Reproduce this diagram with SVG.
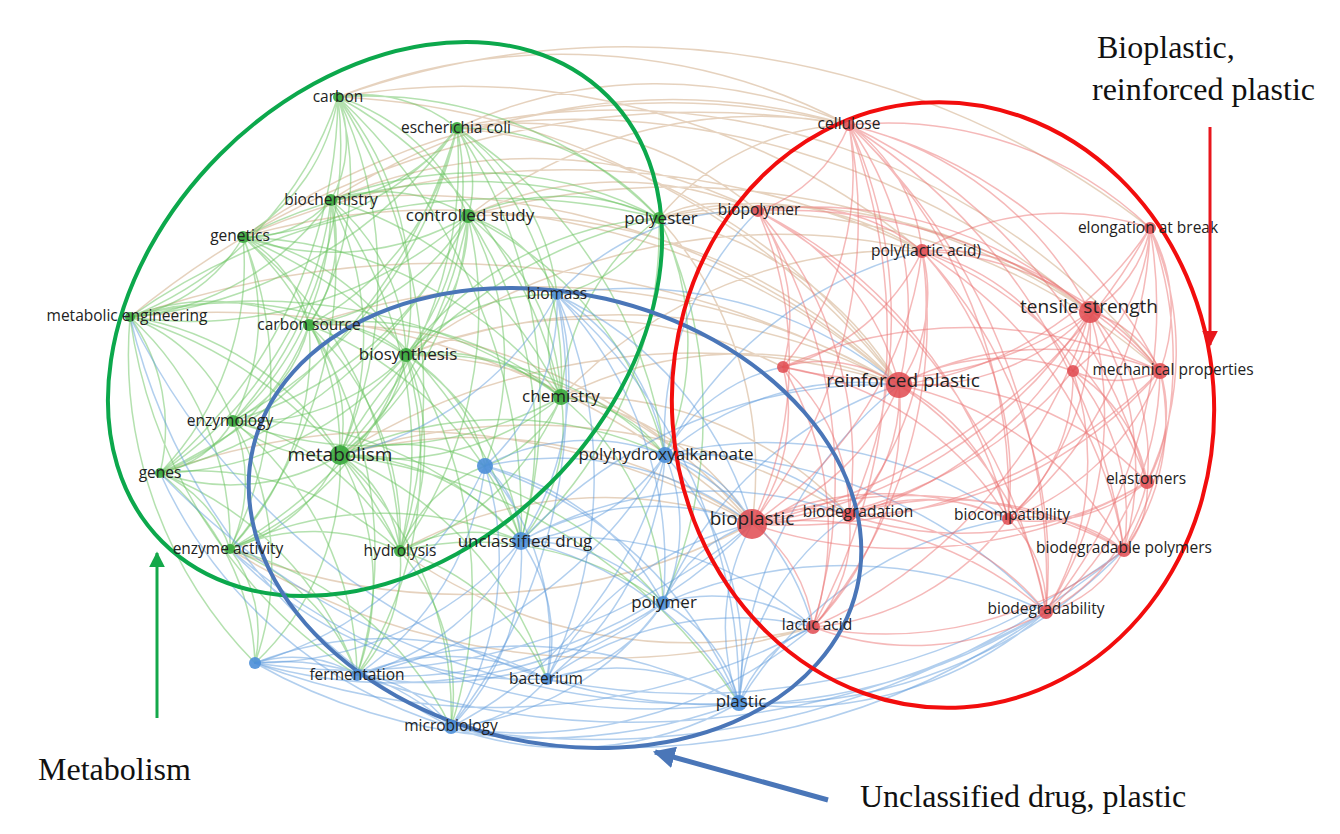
<svg xmlns="http://www.w3.org/2000/svg" width="1340" height="834" viewBox="0 0 1340 834">
<style>
.e path{fill:none;stroke-width:1.5;stroke-linecap:round}
.g{stroke:rgb(105,195,95);stroke-opacity:.5}
.b{stroke:rgb(95,155,220);stroke-opacity:.48}
.r{stroke:rgb(236,115,115);stroke-opacity:.5}
.x{stroke:rgb(205,165,125);stroke-opacity:.5}
.ng circle{fill:#38a83c;fill-opacity:.9}
.nb circle{fill:#4d8fd8;fill-opacity:.9}
.nr circle{fill:#e04a50;fill-opacity:.85}
text.l{font-family:"Open Sans","Noto Sans",sans-serif;font-size:15.5px;fill:#222;text-anchor:middle}
.m{font-size:17px!important}
.big{font-size:19px!important}
.ann{font-family:"Liberation Serif","Times New Roman",serif;font-size:32px;fill:#111}
.cl{fill:none;stroke-width:4}
</style>
<defs>
<marker id="ag" viewBox="0 0 10 10" refX="9" refY="5" markerWidth="16" markerHeight="16" markerUnits="userSpaceOnUse" orient="auto"><path d="M0,0L10,5L0,10z" fill="#14a84a"/></marker>
<marker id="ar" viewBox="0 0 10 10" refX="9" refY="5" markerWidth="16" markerHeight="16" markerUnits="userSpaceOnUse" orient="auto"><path d="M0,0L10,5L0,10z" fill="#e8161c"/></marker>
<marker id="ab" viewBox="0 0 10 10" refX="9" refY="5" markerWidth="22" markerHeight="22" markerUnits="userSpaceOnUse" orient="auto"><path d="M0,0L10,5L0,10z" fill="#4a76b8"/></marker>
</defs>
<rect width="1340" height="834" fill="#fff"/>
<g id="connectors" class="e">
<path class="x" d="M338 97A615 615 0 0 1 849 125M338 97A725 725 0 0 1 922 251M338 97A755 755 0 0 1 899 385M457 128A470 470 0 0 1 849 125M457 128A610 610 0 0 1 899 385M457 128A790 790 0 0 1 1090 312M457 128A375 375 0 0 1 758 211M331 200A630 630 0 0 1 849 125M331 200A510 510 0 0 1 758 211M331 200A720 720 0 0 1 899 385M243 237A745 745 0 0 1 849 125M243 237A815 815 0 0 1 922 251M468 216A475 475 0 0 1 849 125M468 216A560 560 0 0 1 899 385M468 216A350 350 0 0 1 758 211M468 216A755 755 0 0 1 1090 312M130 317A895 895 0 0 1 849 125M130 317A925 925 0 0 1 899 385M130 317A785 785 0 0 1 752 524M309 325A710 710 0 0 1 899 385M309 325A560 560 0 0 1 752 524M406 355A590 590 0 0 1 899 385M406 355A460 460 0 0 1 752 524M406 355A450 450 0 0 1 783 367M406 355A635 635 0 0 1 922 251M340 455A670 670 0 0 1 899 385M340 455A615 615 0 0 1 849 515M160 473A710 710 0 0 1 752 524M230 549A625 625 0 0 0 752 524M230 549A705 705 0 0 0 813 627M400 551A420 420 0 0 1 752 524M400 551A500 500 0 0 0 813 627M561 397A470 470 0 0 1 922 251M561 397A370 370 0 0 1 849 515M659 218A530 530 0 0 1 1090 312M659 218A630 630 0 0 1 1160 371M561 397A275 275 0 0 1 752 524M561 397A405 405 0 0 1 899 385M340 455A500 500 0 0 1 752 524M659 218A255 255 0 0 1 849 125M659 218A350 350 0 0 1 899 385M659 218A380 380 0 0 1 752 524M659 218A320 320 0 0 1 922 251M659 218A120 120 0 0 1 758 211M457 128A700 700 0 0 1 1160 371M338 97A850 850 0 0 1 1150 228M243 237A700 700 0 0 1 899 385"/>
<path class="g" d="M338 97A150 150 0 0 1 457 128M338 97A120 120 0 0 1 331 200M338 97A200 200 0 0 1 243 237M338 97A360 360 0 0 1 130 317M338 97A210 210 0 0 1 468 216M338 97A320 320 0 0 1 406 355M338 97A430 430 0 0 1 340 455M338 97A450 450 0 0 1 561 397M338 97A275 275 0 0 1 309 325M338 97A500 500 0 0 1 160 473M338 97A410 410 0 0 1 659 218M338 97A410 410 0 0 1 233 421M338 97A550 550 0 0 1 400 551M338 97A580 580 0 0 1 521 541"/>
<path class="g" d="M457 128A110 110 0 0 1 468 216M457 128A175 175 0 0 1 331 200M457 128A290 290 0 0 1 243 237M457 128A450 450 0 0 1 130 317M457 128A280 280 0 0 1 406 355M457 128A420 420 0 0 1 340 455M457 128A350 350 0 0 1 561 397M457 128A265 265 0 0 1 659 218M457 128A295 295 0 0 1 309 325M457 128A550 550 0 0 1 160 473M457 128A440 440 0 0 1 233 421M457 128A500 500 0 0 1 521 541M457 128A465 465 0 0 1 665 455M457 128A235 235 0 0 1 557 295"/>
<path class="g" d="M331 200A110 110 0 0 1 243 237M331 200A165 165 0 0 1 468 216M331 200A280 280 0 0 1 130 317M331 200A150 150 0 0 1 309 325M331 200A205 205 0 0 1 406 355M331 200A305 305 0 0 1 340 455M331 200A365 365 0 0 1 561 397M331 200A385 385 0 0 1 160 473M331 200A290 290 0 0 1 233 421M331 200A435 435 0 0 1 230 549M331 200A430 430 0 0 1 400 551M331 200A395 395 0 0 1 659 218"/>
<path class="g" d="M468 216A270 270 0 0 1 243 237M468 216A180 180 0 0 1 406 355M468 216A325 325 0 0 1 340 455M468 216A245 245 0 0 1 561 397M468 216A230 230 0 0 1 659 218M468 216A230 230 0 0 1 309 325M468 216A420 420 0 0 1 130 317M468 216A375 375 0 0 1 233 421M468 216A480 480 0 0 1 160 473M468 216A410 410 0 0 1 400 551M468 216A490 490 0 0 1 230 549M468 216A395 395 0 0 1 521 541M468 216A300 300 0 0 1 485 466M468 216A145 145 0 0 1 557 295M468 216A370 370 0 0 1 665 455"/>
<path class="g" d="M243 237A165 165 0 0 1 130 317M243 237A130 130 0 0 1 309 325M243 237A240 240 0 0 1 406 355M243 237A285 285 0 0 1 340 455M243 237A220 220 0 0 1 233 421M243 237A300 300 0 0 1 160 473M243 237A375 375 0 0 1 230 549M243 237A425 425 0 0 1 561 397M243 237A420 420 0 0 1 400 551M243 237A495 495 0 0 1 521 541M243 237A500 500 0 0 1 659 218"/>
<path class="g" d="M130 317A215 215 0 0 1 309 325M130 317A335 335 0 0 1 406 355M130 317A300 300 0 0 1 340 455M130 317A175 175 0 0 1 233 421M130 317A190 190 0 0 1 160 473M130 317A305 305 0 0 1 230 549M130 317A525 525 0 0 1 561 397M130 317A430 430 0 0 1 400 551M130 317A645 645 0 0 1 659 218M130 317A440 440 0 0 0 255 663M130 317A510 510 0 0 0 357 675"/>
<path class="g" d="M309 325A120 120 0 0 1 406 355M309 325A160 160 0 0 1 340 455M309 325A145 145 0 0 1 233 421M309 325A315 315 0 0 1 561 397M309 325A290 290 0 0 1 400 551M309 325A250 250 0 0 1 160 473M309 325A290 290 0 0 1 230 549M309 325A425 425 0 0 1 357 675M309 325A365 365 0 0 1 521 541"/>
<path class="g" d="M406 355A145 145 0 0 1 340 455M406 355A195 195 0 0 1 561 397M406 355A220 220 0 0 1 233 421M406 355A330 330 0 0 1 160 473M406 355A315 315 0 0 1 230 549M406 355A235 235 0 0 1 400 551M406 355A345 345 0 0 1 659 218M406 355A165 165 0 0 1 485 466M406 355A260 260 0 0 1 521 541M406 355A335 335 0 0 1 665 455M406 355A195 195 0 0 1 557 295M406 355A450 450 0 0 1 451 727M406 355A390 390 0 0 1 357 675"/>
<path class="g" d="M561 397A275 275 0 0 1 340 455M561 397A245 245 0 0 1 659 218M561 397A270 270 0 0 1 400 551M561 397A395 395 0 0 1 233 421M561 397A145 145 0 0 1 665 455M561 397A180 180 0 0 1 521 541M561 397A125 125 0 0 1 485 466M561 397A125 125 0 0 1 557 295M561 397A275 275 0 0 1 663 603"/>
<path class="g" d="M340 455A135 135 0 0 1 233 421M340 455A215 215 0 0 1 160 473M340 455A175 175 0 0 1 230 549M340 455A135 135 0 0 1 400 551M340 455A175 175 0 0 1 485 466M340 455A240 240 0 0 1 521 541M340 455A270 270 0 0 1 255 663M340 455A265 265 0 0 1 357 675M340 455A355 355 0 0 1 451 727M340 455A365 365 0 0 1 547 679M340 455A390 390 0 0 1 665 455M340 455A425 425 0 0 1 663 603M340 455A475 475 0 0 1 659 218M340 455A565 565 0 0 1 739 703"/>
<path class="g" d="M233 421A110 110 0 0 1 160 473M233 421A155 155 0 0 1 230 549M233 421A255 255 0 0 1 400 551M233 421A375 375 0 0 1 521 541M233 421A290 290 0 0 1 255 663M233 421A330 330 0 0 1 357 675M160 473A125 125 0 0 1 230 549M160 473A300 300 0 0 1 400 551M160 473A255 255 0 0 1 255 663M160 473A340 340 0 0 1 357 675M230 549A205 205 0 0 1 400 551M230 549A140 140 0 0 1 255 663M230 549A215 215 0 0 1 357 675M230 549A340 340 0 0 1 451 727M230 549A350 350 0 0 1 521 541M400 551A145 145 0 0 1 521 541M400 551A160 160 0 0 1 357 675M400 551A220 220 0 0 1 451 727M400 551A235 235 0 0 1 547 679M400 551A320 320 0 0 1 663 603M400 551A145 145 0 0 1 485 466M659 218A155 155 0 0 1 557 295M659 218A285 285 0 0 1 665 455M659 218A420 420 0 0 1 521 541M659 218A460 460 0 0 1 663 603"/>
<path class="b" d="M130 317A625 625 0 0 0 451 727M160 473A750 750 0 0 0 739 703M160 473A465 465 0 0 0 451 727M230 549A640 640 0 0 0 739 703M230 549A410 410 0 0 0 547 679M130 317A700 700 0 0 0 547 679"/>
<path class="b" d="M557 295A220 220 0 0 1 485 466M557 295A230 230 0 0 1 665 455M557 295A300 300 0 0 1 521 541M557 295A390 390 0 0 1 663 603M557 295A460 460 0 0 1 547 679M557 295A535 535 0 0 1 451 727M557 295A535 535 0 0 1 739 703M557 295A325 325 0 0 1 340 455M557 295A360 360 0 0 1 752 524M557 295A420 420 0 0 1 899 385M557 295A260 260 0 0 1 758 211"/>
<path class="b" d="M485 466A215 215 0 0 1 665 455M485 466A100 100 0 0 1 521 541M485 466A270 270 0 0 1 663 603M485 466A295 295 0 0 1 357 675M485 466A265 265 0 0 1 547 679M485 466A315 315 0 0 1 451 727M485 466A365 365 0 0 1 255 663M485 466A415 415 0 0 1 739 703M485 466A325 325 0 0 1 752 524"/>
<path class="b" d="M665 455A200 200 0 0 1 521 541M665 455A180 180 0 0 1 663 603M665 455A310 310 0 0 1 739 703M665 455A305 305 0 0 1 547 679M665 455A415 415 0 0 1 451 727M665 455A455 455 0 0 1 357 675M665 455A130 130 0 0 1 752 524M665 455A295 295 0 0 1 899 385M665 455A235 235 0 0 1 849 515M665 455A270 270 0 0 1 813 627M665 455A315 315 0 0 1 758 211M665 455A175 175 0 0 1 783 367M665 455A395 395 0 0 1 922 251M665 455A495 495 0 0 1 1046 612M665 455A420 420 0 0 1 1008 519"/>
<path class="b" d="M521 541A185 185 0 0 1 663 603M521 541A350 350 0 0 1 255 663M521 541A255 255 0 0 1 357 675M521 541A170 170 0 0 1 547 679M521 541A240 240 0 0 1 451 727M521 541A325 325 0 0 1 739 703M521 541A275 275 0 0 1 752 524M521 541A365 365 0 0 1 813 627M521 541A490 490 0 0 1 899 385M521 541A395 395 0 0 1 849 515"/>
<path class="b" d="M663 603A165 165 0 0 1 547 679M663 603A295 295 0 0 1 451 727M663 603A150 150 0 0 1 739 703M663 603A375 375 0 0 1 357 675M663 603A495 495 0 0 1 255 663M663 603A145 145 0 0 1 752 524M663 603A180 180 0 0 1 813 627M663 603A385 385 0 0 1 899 385M663 603A460 460 0 0 1 1046 612"/>
<path class="b" d="M255 663A125 125 0 0 1 357 675M255 663A250 250 0 0 1 451 727M255 663A350 350 0 0 1 547 679M255 663A580 580 0 0 0 739 703M255 663A670 670 0 0 0 813 627M255 663A630 630 0 0 0 752 524M357 675A230 230 0 0 1 547 679M357 675A130 130 0 0 1 451 727M357 675A460 460 0 0 1 739 703M357 675A830 830 0 0 0 1046 612M357 675A500 500 0 0 0 752 524M547 679A130 130 0 0 1 451 727M547 679A230 230 0 0 1 739 703M547 679A325 325 0 0 1 813 627M547 679A310 310 0 0 1 752 524M547 679A610 610 0 0 0 1046 612M547 679A725 725 0 0 0 1124 550M451 727A345 345 0 0 0 739 703M451 727A450 450 0 0 0 813 627M451 727A730 730 0 0 0 1046 612M451 727A835 835 0 0 0 1124 550"/>
<path class="b" d="M739 703A215 215 0 0 1 752 524M739 703A130 130 0 0 1 813 627M739 703A385 385 0 0 0 1046 612M739 703A500 500 0 0 0 1124 550M739 703A430 430 0 0 1 899 385M739 703A260 260 0 0 1 849 515M739 703A390 390 0 0 1 1008 519"/>
<path class="r" d="M849 125A150 150 0 0 1 758 211M849 125A175 175 0 0 1 922 251M849 125A380 380 0 0 1 1150 228M849 125A365 365 0 0 1 1090 312M849 125A300 300 0 0 1 783 367M849 125A315 315 0 0 1 899 385M849 125A475 475 0 0 1 1160 371M849 125A490 490 0 0 1 752 524M849 125A470 470 0 0 1 849 515M849 125A510 510 0 0 1 1008 519M849 125A605 605 0 0 1 1124 550M849 125A630 630 0 0 1 1046 612M849 125A605 605 0 0 1 813 627M849 125A560 560 0 0 1 1147 482"/>
<path class="r" d="M758 211A200 200 0 0 1 922 251M758 211A190 190 0 0 1 783 367M758 211A265 265 0 0 1 899 385M758 211A375 375 0 0 1 752 524M758 211A380 380 0 0 1 849 515M758 211A415 415 0 0 1 1090 312M758 211A520 520 0 0 1 1160 371M758 211A475 475 0 0 1 1008 519M758 211A505 505 0 0 1 813 627M758 211A590 590 0 0 1 1046 612"/>
<path class="r" d="M922 251A275 275 0 0 1 1150 228M922 251A215 215 0 0 1 1090 312M922 251A160 160 0 0 1 899 385M922 251A320 320 0 0 1 1160 371M922 251A230 230 0 0 1 1073 371M922 251A385 385 0 0 1 752 524M922 251A330 330 0 0 1 849 515M922 251A340 340 0 0 1 1008 519M922 251A430 430 0 0 1 1124 550M922 251A460 460 0 0 1 1046 612M922 251A385 385 0 0 1 1147 482M922 251A470 470 0 0 1 813 627M922 251A215 215 0 0 1 783 367"/>
<path class="r" d="M1150 228A125 125 0 0 1 1090 312M1150 228A170 170 0 0 1 1160 371M1150 228A355 355 0 0 1 899 385M1150 228A305 305 0 0 1 1147 482M1150 228A390 390 0 0 1 1124 550M1150 228A390 390 0 0 1 1008 519M1150 228A195 195 0 0 1 1073 371M1150 228A475 475 0 0 1 1046 612M1150 228A595 595 0 0 1 752 524"/>
<path class="r" d="M1090 312A245 245 0 0 1 899 385M1090 312A110 110 0 0 1 1160 371M1090 312A110 110 0 0 1 1073 371M1090 312A215 215 0 0 1 1147 482M1090 312A265 265 0 0 1 1008 519M1090 312A290 290 0 0 1 1124 550M1090 312A365 365 0 0 1 1046 612M1090 312A480 480 0 0 1 752 524M1090 312A380 380 0 0 1 849 515M1090 312A505 505 0 0 1 813 627M1090 312A375 375 0 0 1 783 367"/>
<path class="r" d="M783 367A140 140 0 0 1 899 385M783 367A190 190 0 0 1 752 524M783 367A195 195 0 0 1 849 515M783 367A315 315 0 0 1 813 627M783 367A450 450 0 0 1 1160 371M783 367A325 325 0 0 1 1008 519"/>
<path class="r" d="M899 385A315 315 0 0 1 1160 371M899 385A210 210 0 0 1 1073 371M899 385A320 320 0 0 1 1147 482M899 385A245 245 0 0 1 752 524M899 385A170 170 0 0 1 849 515M899 385A210 210 0 0 1 1008 519M899 385A335 335 0 0 1 1124 550M899 385A330 330 0 0 1 1046 612M899 385A310 310 0 0 1 813 627"/>
<path class="r" d="M1160 371A105 105 0 0 1 1073 371M1160 371A135 135 0 0 1 1147 482M1160 371A255 255 0 0 1 1008 519M1160 371A220 220 0 0 1 1124 550M1160 371A320 320 0 0 1 1046 612M1160 371A525 525 0 0 1 752 524M1160 371A410 410 0 0 1 849 515M1073 371A160 160 0 0 1 1147 482M1073 371A190 190 0 0 1 1008 519M1073 371A225 225 0 0 1 1124 550M1073 371A290 290 0 0 1 1046 612M1073 371A430 430 0 0 1 752 524"/>
<path class="r" d="M1147 482A175 175 0 0 1 1008 519M1147 482A90 90 0 0 1 1124 550M1147 482A195 195 0 0 1 1046 612M1147 482A480 480 0 0 1 752 524M1147 482A360 360 0 0 1 849 515M752 524A120 120 0 0 1 849 515M752 524A310 310 0 0 1 1008 519M752 524A450 450 0 0 1 1124 550M752 524A370 370 0 0 1 1046 612M752 524A145 145 0 0 1 813 627M849 515A190 190 0 0 1 1008 519M849 515A330 330 0 0 1 1124 550M849 515A260 260 0 0 1 1046 612M849 515A140 140 0 0 1 813 627M1008 519A145 145 0 0 1 1124 550M1008 519A120 120 0 0 1 1046 612M1008 519A270 270 0 0 1 813 627M1124 550A120 120 0 0 1 1046 612M1124 550A380 380 0 0 1 813 627M1046 612A280 280 0 0 1 813 627"/>
</g>
<g id="cluster-outlines">
<ellipse class="cl" cx="385" cy="319" rx="315" ry="233" transform="rotate(-45 385 319)" stroke="#0ca84c"/>
<ellipse class="cl" cx="555" cy="518" rx="310" ry="225" transform="rotate(13 555 518)" stroke="#4a76b8"/>
<ellipse class="cl" cx="943" cy="405" rx="271" ry="303" transform="rotate(-4 943 405)" stroke="#f20d0d"/>
</g>
<g id="n-carbon" class="ng"><circle cx="338" cy="97" r="5"/><text class="l" x="338" y="102">carbon</text></g>
<g id="n-escherichia-coli" class="ng"><circle cx="457" cy="128" r="6"/><text class="l" x="456" y="133">escherichia coli</text></g>
<g id="n-biochemistry" class="ng"><circle cx="331" cy="200" r="6"/><text class="l" x="331" y="205">biochemistry</text></g>
<g id="n-controlled-study" class="ng"><circle cx="468" cy="216" r="7"/><text class="l m" x="470" y="221">controlled study</text></g>
<g id="n-genetics" class="ng"><circle cx="243" cy="237" r="6"/><text class="l" x="240" y="241">genetics</text></g>
<g id="n-polyester" class="ng"><circle cx="659" cy="218" r="6"/><text class="l m" x="661" y="224">polyester</text></g>
<g id="n-metabolic-engineering" class="ng"><circle cx="130" cy="317" r="5"/><text class="l" x="127" y="321">metabolic engineering</text></g>
<g id="n-carbon-source" class="ng"><circle cx="309" cy="325" r="6"/><text class="l" x="309" y="330">carbon source</text></g>
<g id="n-biosynthesis" class="ng"><circle cx="406" cy="355" r="7"/><text class="l m" x="408" y="360">biosynthesis</text></g>
<g id="n-chemistry" class="ng"><circle cx="561" cy="397" r="8"/><text class="l m" x="561" y="402">chemistry</text></g>
<g id="n-enzymology" class="ng"><circle cx="233" cy="421" r="6"/><text class="l" x="230" y="426">enzymology</text></g>
<g id="n-metabolism" class="ng"><circle cx="340" cy="455" r="10"/><text class="l big" x="340" y="461">metabolism</text></g>
<g id="n-genes" class="ng"><circle cx="160" cy="473" r="5"/><text class="l" x="160" y="478">genes</text></g>
<g id="n-enzyme-activity" class="ng"><circle cx="230" cy="549" r="5"/><text class="l" x="228" y="554">enzyme activity</text></g>
<g id="n-hydrolysis" class="ng"><circle cx="400" cy="551" r="6"/><text class="l" x="400" y="556">hydrolysis</text></g>
<g id="n-biomass" class="nb"><circle cx="557" cy="295" r="5"/><text class="l" x="557" y="299">biomass</text></g>
<g id="n-blue-a" class="nb"><circle cx="485" cy="466" r="8"/></g>
<g id="n-polyhydroxyalkanoate" class="nb"><circle cx="665" cy="455" r="8"/><text class="l m" x="666" y="460">polyhydroxyalkanoate</text></g>
<g id="n-unclassified-drug" class="nb"><circle cx="521" cy="541" r="9"/><text class="l m" x="525" y="547">unclassified drug</text></g>
<g id="n-polymer" class="nb"><circle cx="663" cy="603" r="7"/><text class="l m" x="664" y="608">polymer</text></g>
<g id="n-blue-b" class="nb"><circle cx="255" cy="663" r="6"/></g>
<g id="n-fermentation" class="nb"><circle cx="357" cy="675" r="6"/><text class="l" x="357" y="680">fermentation</text></g>
<g id="n-bacterium" class="nb"><circle cx="547" cy="679" r="6"/><text class="l" x="546" y="684">bacterium</text></g>
<g id="n-microbiology" class="nb"><circle cx="451" cy="727" r="7"/><text class="l" x="451" y="731">microbiology</text></g>
<g id="n-plastic" class="nb"><circle cx="739" cy="703" r="8"/><text class="l m" x="741" y="707">plastic</text></g>
<g id="n-cellulose" class="nr"><circle cx="849" cy="125" r="6"/><text class="l" x="849" y="129">cellulose</text></g>
<g id="n-biopolymer" class="nr"><circle cx="758" cy="211" r="6"/><text class="l" x="759" y="215">biopolymer</text></g>
<g id="n-poly-lactic-acid" class="nr"><circle cx="922" cy="251" r="7"/><text class="l" x="926" y="256">poly(lactic acid)</text></g>
<g id="n-elongation-at-break" class="nr"><circle cx="1150" cy="228" r="6"/><text class="l" x="1148" y="233">elongation at break</text></g>
<g id="n-tensile-strength" class="nr"><circle cx="1090" cy="312" r="11"/><text class="l big" x="1089" y="313">tensile strength</text></g>
<g id="n-red-a" class="nr"><circle cx="783" cy="367" r="6"/></g>
<g id="n-reinforced-plastic" class="nr"><circle cx="899" cy="385" r="13"/><text class="l big" x="903" y="387">reinforced plastic</text></g>
<g id="n-red-b" class="nr"><circle cx="1073" cy="371" r="6"/></g>
<g id="n-mechanical-properties" class="nr"><circle cx="1160" cy="371" r="8"/><text class="l" x="1173" y="375">mechanical properties</text></g>
<g id="n-elastomers" class="nr"><circle cx="1147" cy="482" r="7"/><text class="l" x="1146" y="484">elastomers</text></g>
<g id="n-bioplastic" class="nr"><circle cx="752" cy="524" r="15"/><text class="l big" x="752" y="525">bioplastic</text></g>
<g id="n-biodegradation" class="nr"><circle cx="849" cy="515" r="7"/><text class="l" x="858" y="517">biodegradation</text></g>
<g id="n-biocompatibility" class="nr"><circle cx="1008" cy="519" r="6"/><text class="l" x="1012" y="520">biocompatibility</text></g>
<g id="n-biodegradable-polymers" class="nr"><circle cx="1124" cy="550" r="7"/><text class="l" x="1124" y="553">biodegradable polymers</text></g>
<g id="n-biodegradability" class="nr"><circle cx="1046" cy="612" r="7"/><text class="l" x="1046" y="614">biodegradability</text></g>
<g id="n-lactic-acid" class="nr"><circle cx="813" cy="627" r="7"/><text class="l" x="817" y="630">lactic acid</text></g>
<g id="annotations">
<line x1="157" y1="718" x2="157" y2="553" stroke="#14a84a" stroke-width="3" marker-end="url(#ag)"/>
<line x1="1210" y1="127" x2="1210" y2="345" stroke="#e8161c" stroke-width="3" marker-end="url(#ar)"/>
<line x1="828" y1="800" x2="655" y2="752" stroke="#4a76b8" stroke-width="5" marker-end="url(#ab)"/>
<text class="ann" x="1097" y="58">Bioplastic,</text>
<text class="ann" x="1092" y="100">reinforced plastic</text>
<text class="ann" x="38" y="780">Metabolism</text>
<text class="ann" x="860" y="807">Unclassified drug, plastic</text>
</g>
</svg>
